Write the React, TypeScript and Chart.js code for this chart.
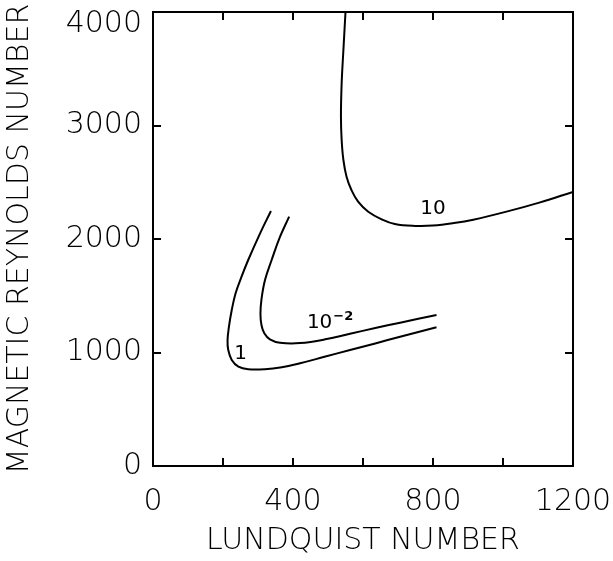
import React, { useEffect, useRef } from "react";
import { Chart, registerables } from "chart.js";

Chart.register(...registerables);

// ---- data (Lundquist number vs magnetic Reynolds number contours) ----
const curve10X = [550, 544, 539, 537, 539, 544, 553, 567, 586, 615, 653, 691, 749, 800, 860, 915, 1010, 1106, 1200];
const curve10Y = [4000, 3665, 3372, 3078, 2872, 2696, 2549, 2432, 2329, 2240, 2174, 2132, 2115, 2118, 2140, 2170, 2241, 2323, 2415];

const curve1X = [337, 306, 272, 253, 236, 225, 217, 213, 215, 225, 244, 272, 320, 368, 420, 490, 563, 635, 706, 810];
const curve1Y = [2247, 2050, 1815, 1668, 1522, 1374, 1227, 1110, 1022, 934, 875, 852, 852, 870, 905, 962, 1022, 1080, 1139, 1222];

const curveM2X = [389, 363, 339, 320, 310, 307, 310, 318, 334, 363, 420, 496, 563, 635, 706, 810];
const curveM2Y = [2197, 2020, 1815, 1639, 1470, 1340, 1240, 1170, 1116, 1086, 1083, 1118, 1166, 1215, 1263, 1330];

// contour label anchors (data units)
const label10 = { x: 800, y: 2264, text: "10" };
const labelM2 = { x: 476, y: 1264, text: "10", sup: "\u22122" };
const label1 = { x: 250, y: 991, text: "1" };

const xMinorTicks = [200, 400, 600, 800, 1000];
const yMinorTicks = [1000, 2000, 3000];

const FONT = "'DejaVu Sans', sans-serif";

function pts(xs: number[], ys: number[]) {
  return xs.map((x, i) => ({ x, y: ys[i] }));
}

const framePlugin = {
  id: "frame",
  afterDraw(chart: any) {
    const { ctx, chartArea: a, scales } = chart;
    const sx = scales.x;
    const sy = scales.y;
    ctx.save();
    ctx.strokeStyle = "#000";
    ctx.lineWidth = 2;
    ctx.strokeRect(a.left, a.top, a.right - a.left, a.bottom - a.top);
    const L = 8;
    ctx.beginPath();
    for (const v of xMinorTicks) {
      const p = Math.round(sx.getPixelForValue(v));
      ctx.moveTo(p, a.bottom);
      ctx.lineTo(p, a.bottom - L);
      ctx.moveTo(p, a.top);
      ctx.lineTo(p, a.top + L);
    }
    for (const v of yMinorTicks) {
      const p = Math.round(sy.getPixelForValue(v));
      ctx.moveTo(a.left, p);
      ctx.lineTo(a.left + L, p);
      ctx.moveTo(a.right, p);
      ctx.lineTo(a.right - L, p);
    }
    ctx.stroke();

    ctx.fillStyle = "#000";
    ctx.textBaseline = "middle";
    ctx.textAlign = "center";
    ctx.font = `400 20px ${FONT}`;
    ctx.fillText(label10.text, sx.getPixelForValue(label10.x), sy.getPixelForValue(label10.y));
    ctx.fillText(label1.text, sx.getPixelForValue(label1.x), sy.getPixelForValue(label1.y));
    const bx = sx.getPixelForValue(labelM2.x);
    const by = sy.getPixelForValue(labelM2.y);
    ctx.fillText(labelM2.text, bx, by);
    const w = ctx.measureText(labelM2.text).width;
    ctx.textAlign = "left";
    ctx.font = `700 13px ${FONT}`;
    ctx.fillText(labelM2.sup, bx + w / 2 + 1, by - 6);
    ctx.restore();
  },
};

export default function App() {
  const ref = useRef<HTMLCanvasElement | null>(null);

  useEffect(() => {
    if (!ref.current) return;
    const line = (xs: number[], ys: number[]) => ({
      data: pts(xs, ys),
      borderColor: "#000",
      borderWidth: 2,
      pointRadius: 0,
      tension: 0.4,
      fill: false,
    });
    const chart = new Chart(ref.current, {
      type: "line",
      data: {
        datasets: [line(curve10X, curve10Y), line(curve1X, curve1Y), line(curveM2X, curveM2Y)],
      },
      options: {
        animation: false,
        responsive: false,
        events: [],
        layout: { padding: { top: 12, right: 40, left: 0, bottom: 0 } },
        plugins: { legend: { display: false }, tooltip: { enabled: false } },
        scales: {
          x: {
            type: "linear",
            min: 0,
            max: 1200,
            grid: { display: false, drawTicks: false },
            border: { display: false },
            ticks: {
              stepSize: 400,
              color: "#000",
              padding: 18,
              maxRotation: 0,
              font: { family: FONT, size: 30, weight: "300" as any },
              callback: (v: any) => String(v),
            },
            title: {
              display: true,
              text: "LUNDQUIST NUMBER",
              color: "#000",
              padding: { top: 0, bottom: 2 },
              font: { family: FONT, size: 30, weight: "300" as any },
            },
            afterFit(s: any) {
              s.height = 95;
              s.paddingLeft = 0;
              s.paddingRight = 0;
            },
          },
          y: {
            type: "linear",
            min: 0,
            max: 4000,
            grid: { display: false, drawTicks: false },
            border: { display: false },
            ticks: {
              stepSize: 1000,
              color: "#000",
              padding: 11,
              font: { family: FONT, size: 30, weight: "300" as any, lineHeight: 0.8 },
              callback: (v: any) => (v === 4000 ? ["", "4000"] : String(v)),
            },
            title: {
              display: true,
              text: "MAGNETIC REYNOLDS NUMBER",
              color: "#000",
              padding: { top: 2, bottom: 0 },
              font: { family: FONT, size: 30, weight: "300" as any },
            },
            afterFit(s: any) {
              s.width = 153;
              s.paddingTop = 0;
              s.paddingBottom = 0;
            },
          },
        },
      },
      plugins: [framePlugin],
    });
    return () => chart.destroy();
  }, []);

  return (
    <div style={{ position: "absolute", left: 0, top: 0, width: 613, height: 561, background: "#fff" }}>
      <canvas ref={ref} width={613} height={561} style={{ display: "block" }} />
    </div>
  );
}
